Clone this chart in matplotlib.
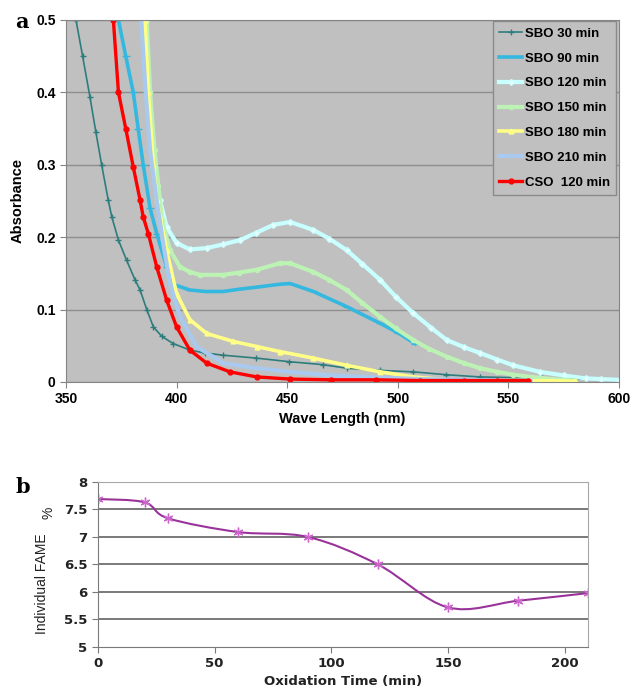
import matplotlib.pyplot as plt
import numpy as np
from matplotlib.path import Path
from matplotlib.patches import PathPatch

# panel a: absorbance spectra
wl30 = [353, 354.5, 357.5, 360.8, 363.5, 366.1, 369.1, 370.7, 373.7, 377.4, 381.2, 383.5, 386.5, 389.5,
        393.3, 398.5, 406, 413, 421, 436, 451, 466, 477, 492, 507, 522, 537, 552, 565, 580, 600]
a30 = [0.54, 0.5, 0.45, 0.394, 0.345, 0.3, 0.251, 0.228, 0.196, 0.168, 0.141, 0.127, 0.1, 0.076,
       0.063, 0.053, 0.044, 0.040, 0.037, 0.033, 0.028, 0.024, 0.019, 0.016, 0.014, 0.010, 0.007,
       0.006, 0.005, 0.004, 0.004]

wl90 = [372.8, 373.7, 377, 380.4, 382.6, 384.9, 388, 391, 395.5, 399.3, 406, 413, 421.1, 428, 436.2,
        446.7, 451.3, 461.8, 476.9, 492, 500, 507.8]
a90 = [0.54, 0.5, 0.45, 0.4, 0.35, 0.3, 0.24, 0.205, 0.159, 0.134, 0.127, 0.125, 0.125, 0.128, 0.131,
       0.135, 0.136, 0.125, 0.104, 0.081, 0.068, 0.053]

wl120 = [385.3, 385.7, 387.2, 389.5, 391, 392.5, 395.5, 400, 406, 413.6, 421, 428.7, 436, 443.7, 451.3,
         461.8, 469, 476.9, 484, 492, 499, 507, 515, 522.1, 530, 537.2, 545, 552.2, 564.3, 575, 585,
         592, 600]
a120 = [0.54, 0.5, 0.4, 0.3, 0.27, 0.251, 0.214, 0.192, 0.183, 0.185, 0.19, 0.196, 0.206, 0.217, 0.221,
        0.21, 0.198, 0.182, 0.163, 0.141, 0.118, 0.095, 0.075, 0.058, 0.048, 0.04, 0.031, 0.023, 0.014,
        0.009, 0.005, 0.004, 0.003]

wl150 = [386, 386.5, 388, 390, 391.8, 393.3, 397, 401.5, 406, 410.6, 421.1, 428, 436.2, 446.7, 451.3,
         461.8, 469, 476.9, 484, 492, 499, 507, 514, 522.1, 530, 537.2, 545, 552.2, 560, 570, 580]
a150 = [0.54, 0.5, 0.4, 0.32, 0.27, 0.224, 0.182, 0.159, 0.152, 0.148, 0.148, 0.151, 0.155, 0.164, 0.164,
        0.152, 0.141, 0.127, 0.109, 0.09, 0.074, 0.058, 0.046, 0.035, 0.026, 0.019, 0.014, 0.010, 0.007,
        0.004, 0.002]

wl180 = [385.2, 385.7, 387.2, 389.5, 391, 392.5, 395.5, 400, 406, 413.6, 425.6, 436.2, 446.7, 461.8,
         476.9, 492, 507, 522, 540, 560, 580]
a180 = [0.54, 0.5, 0.4, 0.3, 0.251, 0.228, 0.182, 0.122, 0.086, 0.067, 0.056, 0.049, 0.042, 0.033,
        0.023, 0.014, 0.007, 0.003, 0.002, 0.002, 0.001]

wl210 = [383.5, 384, 386, 388, 391, 394, 397, 401.5, 409, 421.1, 436.2, 451.3, 466, 476.9, 492, 510,
         530, 550, 560]
a210 = [0.54, 0.5, 0.4, 0.32, 0.25, 0.19, 0.136, 0.09, 0.049, 0.026, 0.019, 0.014, 0.010, 0.008, 0.006,
        0.004, 0.003, 0.002, 0.002]

wlcso = [370.5, 371.4, 373.7, 377, 380.4, 383.5, 384.9, 387.2, 391, 395.5, 400, 406, 413.6, 424.1,
         436.2, 451.3, 470, 490, 510, 530, 545, 559]
acso = [0.54, 0.5, 0.4, 0.35, 0.297, 0.251, 0.228, 0.205, 0.159, 0.113, 0.076, 0.044, 0.026, 0.014,
        0.007, 0.004, 0.003, 0.003, 0.002, 0.002, 0.002, 0.002]

# panel b: individual FAME vs oxidation time
t_ox = [0, 20, 30, 60, 90, 120, 150, 180, 210]
fame = [7.69, 7.63, 7.34, 7.09, 7.0, 6.5, 5.72, 5.84, 5.98]

fig = plt.figure(figsize=(6.33, 6.91), dpi=100)
ax = fig.add_axes([0.1043, 0.4472, 0.8736, 0.5239])
ax.set_facecolor('#C0C0C0')

series = [
    (wl30, a30, 'SBO 30 min', dict(color='#2E7D7D', marker='+', ms=5, lw=1.2)),
    (wl90, a90, 'SBO 90 min', dict(color='#35B8E0', marker='_', ms=6, lw=2.6)),
    (wl120, a120, 'SBO 120 min', dict(color='#C8FFFF', marker='D', ms=3, mfc='#F2FFFF', mec='#C8FFFF', lw=3)),
    (wl150, a150, 'SBO 150 min', dict(color='#BDF2B5', marker='o', ms=3, lw=3)),
    (wl180, a180, 'SBO 180 min', dict(color='#FFFF88', marker='^', ms=3.5, lw=2.6)),
    (wl210, a210, 'SBO 210 min', dict(color='#A9C9EE', lw=3)),
    (wlcso, acso, 'CSO  120 min', dict(color='#FF0000', marker='o', ms=3.5, lw=2.4)),
]
for x, y, lab, kw in series:
    ax.plot(x, y, label=lab, **kw)

ax.set_xlim(350, 600)
ax.set_ylim(0, 0.5)
ax.set_xticks([350, 400, 450, 500, 550, 600])
ax.set_yticks([0, 0.1, 0.2, 0.3, 0.4, 0.5])
ax.set_yticklabels(['0', '0.1', '0.2', '0.3', '0.4', '0.5'])
ax.grid(axis='y', color='#8E8E8E', lw=1)
ax.set_axisbelow(True)
for s in ax.spines.values():
    s.set_color('#858585')
ax.tick_params(colors='#858585', length=4, labelcolor='black')
for lb in ax.get_xticklabels() + ax.get_yticklabels():
    lb.set_fontfamily('Liberation Sans')
    lb.set_fontweight('bold')
    lb.set_fontsize(10)
ax.set_xlabel('Wave Length (nm)', family='Liberation Sans', weight='bold', fontsize=10.5, labelpad=4)
ax.set_ylabel('Absorbance', family='Liberation Sans', weight='bold', fontsize=10.5, labelpad=8)
leg = ax.legend(loc='upper right', bbox_to_anchor=(0.995, 0.997), borderaxespad=0,
                prop={'family': 'Liberation Sans', 'weight': 'bold', 'size': 9.5},
                handlelength=1.7, handletextpad=0.2, labelspacing=0.95, borderpad=0.5,
                fancybox=False, framealpha=1, facecolor='#C0C0C0', edgecolor='#8A8A8A', numpoints=1)
fig.text(0.024, 0.968, 'a', family='DejaVu Serif', weight='bold', fontsize=15, va='center')

# panel b
bx = fig.add_axes([0.1548, 0.0637, 0.774, 0.2388])
pts = list(zip(t_ox, fame))
verts = [pts[0]]
codes = [Path.MOVETO]
for i in range(len(pts) - 1):
    p0 = np.array(pts[max(i - 1, 0)])
    p1 = np.array(pts[i])
    p2 = np.array(pts[i + 1])
    p3 = np.array(pts[min(i + 2, len(pts) - 1)])
    verts += [tuple(p1 + (p2 - p0) / 6), tuple(p2 - (p3 - p1) / 6), tuple(p2)]
    codes += [Path.CURVE4] * 3
bx.add_patch(PathPatch(Path(verts, codes), fill=False, edgecolor='#993399', lw=1.5))
bx.plot(t_ox, fame, ls='none', marker=(6, 2, 0), ms=7, mew=1, color='#CC66CC')
bx.set_xlim(0, 210)
bx.set_ylim(5, 8)
bx.set_xticks([0, 50, 100, 150, 200])
bx.set_yticks([5, 5.5, 6, 6.5, 7, 7.5, 8])
bx.set_yticklabels(['5', '5.5', '6', '6.5', '7', '7.5', '8'])
for yv in [5.5, 6, 6.5, 7, 7.5]:
    bx.axhline(yv, color='#6E6E6E', lw=1.3, zorder=0)
for s in bx.spines.values():
    s.set_color('#A8A8A8')
bx.spines['left'].set_color('#7A7A7A')
bx.spines['bottom'].set_color('#7A7A7A')
bx.tick_params(colors='#7A7A7A', length=4, labelcolor='#222222')
for lb in bx.get_xticklabels() + bx.get_yticklabels():
    lb.set_fontfamily('DejaVu Sans')
    lb.set_fontweight('bold')
    lb.set_fontsize(9.5)
bx.set_xlabel('Oxidation Time (min)', family='DejaVu Sans', weight='bold', fontsize=9.5,
              color='#222222', labelpad=3)
fig.text(0.066, 1 - 584 / 691, 'Individual FAME', rotation=90, family=['Liberation Sans Narrow', 'Liberation Sans'],
         fontsize=10, color='#222222', ha='center', va='center')
fig.text(0.076, 1 - 513 / 691, '%', rotation=90, family='Liberation Sans', fontsize=10, color='#222222',
         ha='center', va='center')
fig.text(0.024, 0.295, 'b', family='DejaVu Serif', weight='bold', fontsize=15, va='center')

plt.savefig('out.png', dpi=100)
